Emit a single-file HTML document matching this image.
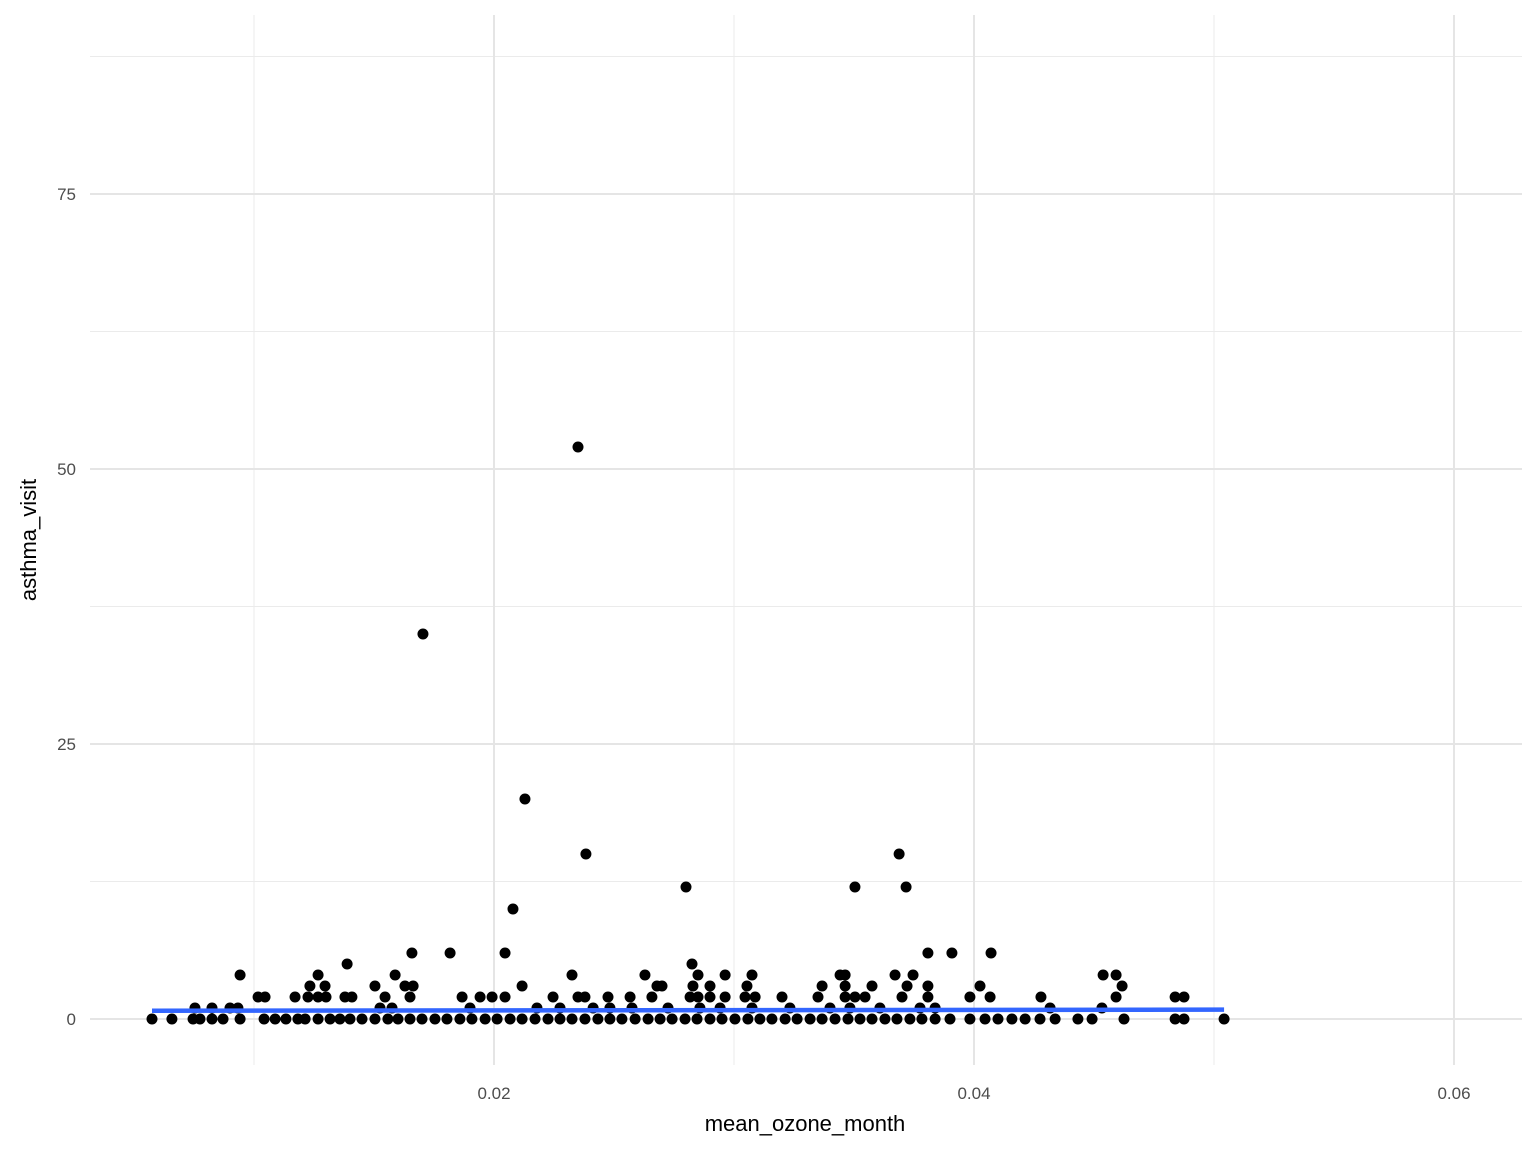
<!DOCTYPE html>
<html><head><meta charset="utf-8"><style>
html,body{margin:0;padding:0;background:#fff}
svg text{font-family:"Liberation Sans",Arial,sans-serif}
</style></head><body>
<svg id="chart" width="1536" height="1152" viewBox="0 0 1536 1152" xmlns="http://www.w3.org/2000/svg">
<rect width="1536" height="1152" fill="#fff"/>
<g id="grid"></g>
<g id="ticks"></g>
<g id="pts"></g>
<g id="fit"></g>
<text x="805" y="1131" font-size="22" text-anchor="middle" fill="#000">mean_ozone_month</text>
<text transform="translate(36,540) rotate(-90)" font-size="22" text-anchor="middle" fill="#000">asthma_visit</text>
</svg>
<script>
// ozone values (x1000) grouped by asthma_visit level
const oz0=[5.75,6.58,7.46,7.75,8.25,8.71,9.42,10.42,10.88,11.33,11.83,12.13,12.67,13.17,13.58,14.0,14.5,15.04,15.58,16.0,16.5,17.0,17.54,18.04,18.58,19.08,19.63,20.13,20.67,21.17,21.71,22.25,22.75,23.25,23.79,24.33,24.83,25.33,25.88,26.42,26.92,27.42,27.96,28.46,29.0,29.5,30.04,30.58,31.08,31.58,32.13,32.63,33.17,33.67,34.21,34.75,35.25,35.75,36.29,36.79,37.33,37.83,38.38,39.0,39.83,40.46,41.0,41.58,42.13,42.75,43.38,44.33,44.92,46.25,48.38,48.75,50.42];
const oz1=[7.54,8.25,9.0,9.33,15.25,15.75,19.0,21.79,22.75,24.13,24.83,25.75,27.25,28.58,29.42,30.75,32.33,34.0,34.83,36.08,37.75,38.38,43.17,45.33];
const oz2=[10.17,10.46,11.71,12.25,12.67,13.0,13.79,14.08,15.46,16.5,18.67,19.42,19.92,20.46,22.46,23.5,23.79,24.75,25.67,26.58,28.17,28.5,29.0,29.63,30.46,30.88,32.0,33.5,34.63,35.04,35.46,37.0,38.08,39.83,40.67,42.79,45.92,48.38,48.75];
const oz3=[12.33,12.96,15.04,16.29,16.63,21.17,26.79,27.0,28.29,29.0,30.54,33.67,34.63,35.75,37.21,38.08,40.25,46.17];
const oz4=[9.42,12.67,15.88,23.25,26.29,28.5,29.63,30.75,34.42,34.63,36.71,37.46,45.38,45.92];
const oz5=[13.88,28.25];
const oz6=[16.58,18.17,20.46,38.08,39.08,40.71];
const ozHigh=[20.79,28.0,35.04,37.17,23.83,36.88,21.29,17.04,23.5];
const visitHigh=[10,12,12,12,15,15,20,35,52];
const fitOzone=[5.75,50.42];
const fitVisit=[0.75,0.85];
const xTicks=[0.02,0.04,0.06];
const xMinor=[0.01,0.03,0.05];
const yTicks=[0,25,50,75];
const yMinor=[12.5,37.5,62.5,87.5];

const X=v=>14+v*24000;
const Y=v=>1019-v*11;
const NS="http://www.w3.org/2000/svg";
function mk(t,a,p){const e=document.createElementNS(NS,t);for(const k in a)e.setAttribute(k,a[k]);p.appendChild(e);return e;}
const grid=document.getElementById('grid'),ticks=document.getElementById('ticks'),pts=document.getElementById('pts'),fit=document.getElementById('fit');
const L=90,R=1522,T=15,B=1065;
xMinor.forEach(v=>{const e=mk('line',{x1:X(v),x2:X(v),y1:T,y2:B,stroke:'#ebebeb','stroke-width':1},grid);

});
yMinor.forEach(v=>{const e=mk('line',{x1:L,x2:R,y1:Y(v),y2:Y(v),stroke:'#ebebeb','stroke-width':1},grid);

});
xTicks.forEach(v=>{const e=mk('line',{x1:X(v),x2:X(v),y1:T,y2:B,stroke:'#e5e5e5','stroke-width':2},grid);


const t=mk('text',{x:X(v),y:1099,'font-size':17,'text-anchor':'middle',fill:'#4d4d4d'},ticks);t.textContent=v.toFixed(2);

});
yTicks.forEach(v=>{const e=mk('line',{x1:L,x2:R,y1:Y(v),y2:Y(v),stroke:'#e5e5e5','stroke-width':2},grid);


const t=mk('text',{x:76,y:Y(v)+6,'font-size':17,'text-anchor':'end',fill:'#4d4d4d'},ticks);t.textContent=v;

});
function dot(o,v){const c=mk('circle',{cx:X(o/1000),cy:Y(v),r:5.5,fill:'#000'},pts);

}
[[oz0,0],[oz1,1],[oz2,2],[oz3,3],[oz4,4],[oz5,5],[oz6,6]].forEach(([a,v])=>a.forEach(o=>dot(o,v)));
ozHigh.forEach((o,i)=>dot(o,visitHigh[i]));
const ln=mk('line',{x1:X(fitOzone[0]/1000),y1:Y(fitVisit[0]),x2:X(fitOzone[1]/1000),y2:Y(fitVisit[1]),stroke:'#3366ff','stroke-width':4.5},fit);


</script>
</body></html>
